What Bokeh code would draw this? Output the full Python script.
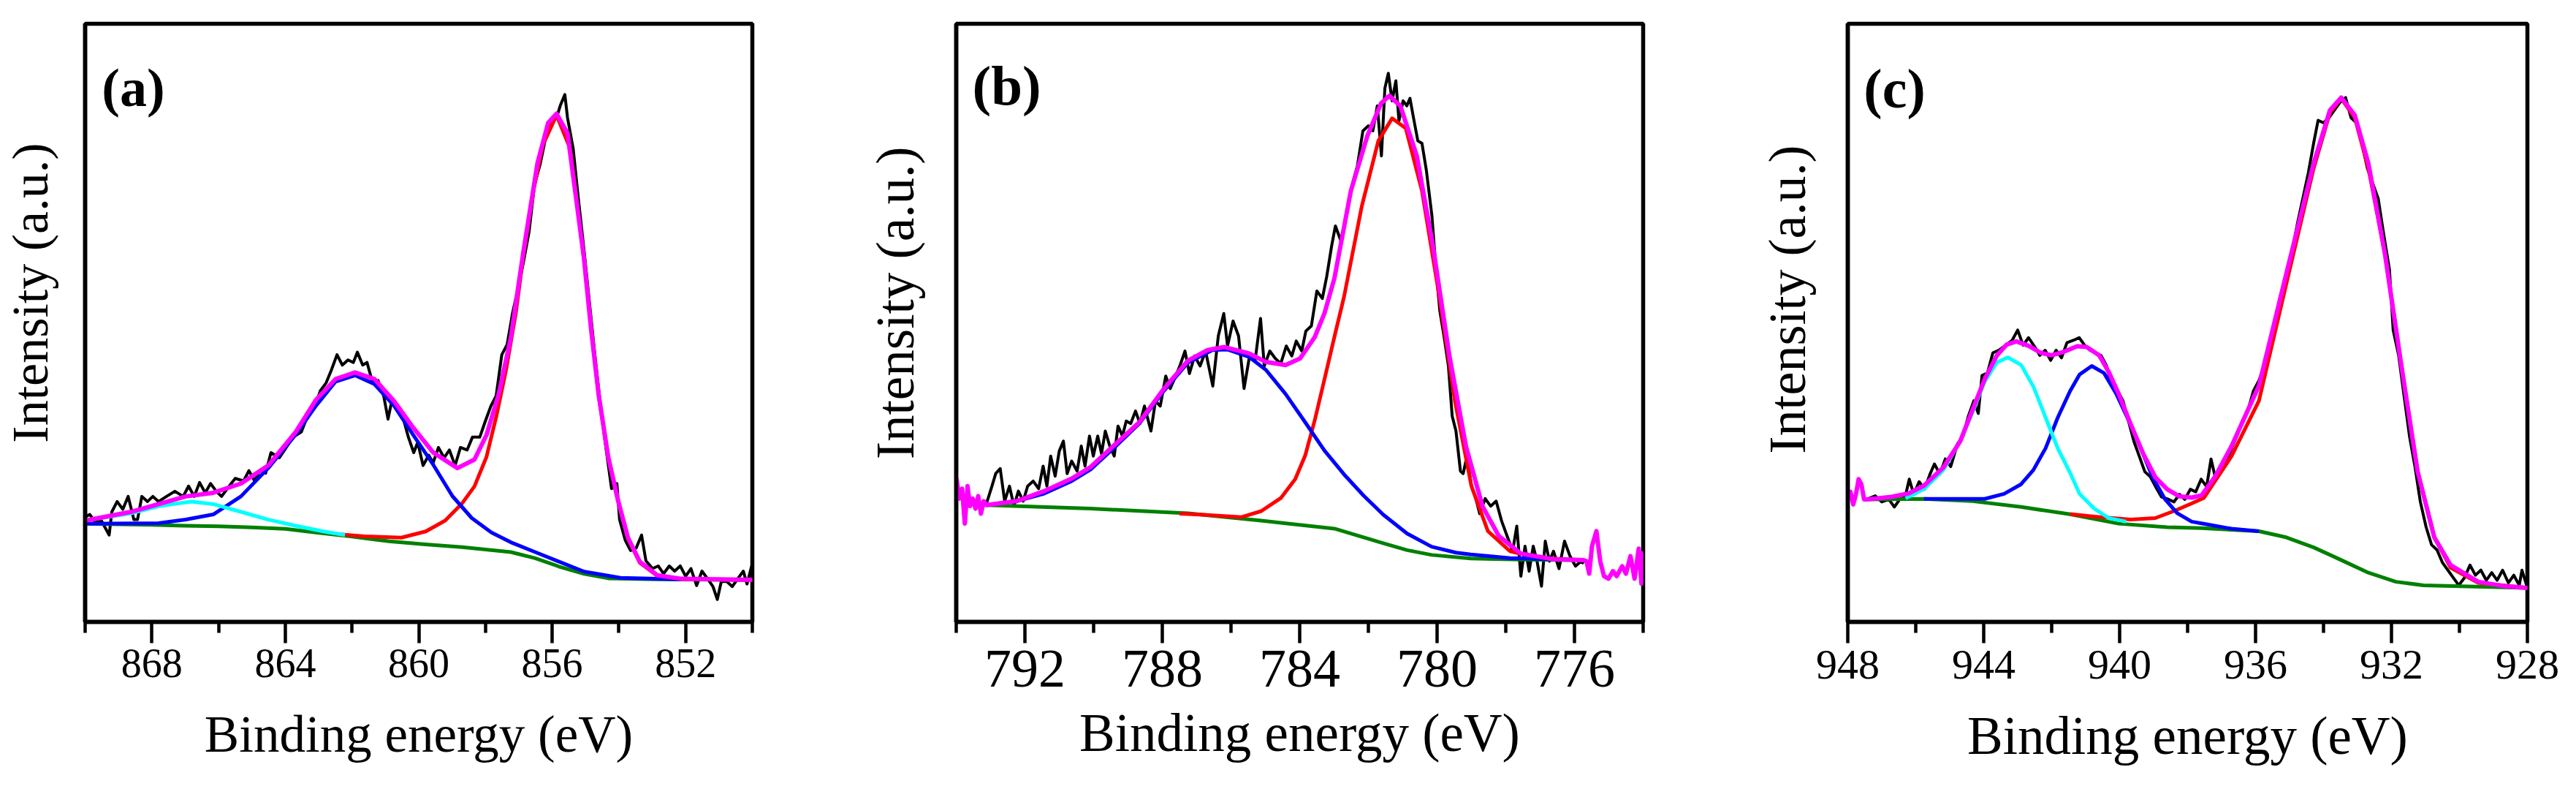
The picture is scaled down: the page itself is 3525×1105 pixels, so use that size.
from bokeh.plotting import figure
from bokeh.models import Range1d, FixedTicker, Label, Title
from bokeh.layouts import row
from bokeh.embed import file_html
from bokeh.resources import INLINE

FONT = "Liberation Serif"

# ---------------- panel (a): Ni 2p3/2 ----------------
a_raw_e = [870.0, 869.86, 869.70, 869.53, 869.28, 869.20, 869.04, 868.87, 868.71, 868.54,
           868.43, 868.30, 868.13, 867.97, 867.80, 867.56, 867.31, 867.06, 866.90, 866.73,
           866.57, 866.40, 866.24, 866.07, 865.91, 865.74, 865.50, 865.25, 865.09, 864.92,
           864.76, 864.59, 864.43, 864.18, 864.02, 863.77, 863.52, 863.28, 863.11, 862.95,
           862.78, 862.62, 862.45, 862.29, 862.12, 861.96, 861.84, 861.68, 861.55, 861.38,
           861.22, 861.05, 860.92, 860.81, 860.64, 860.48, 860.31, 860.15, 860.03, 859.87,
           859.70, 859.57, 859.41, 859.24, 859.08, 858.91, 858.75, 858.55, 858.39, 858.17,
           858.01, 857.84, 857.68, 857.51, 857.35, 857.19, 857.02, 856.86, 856.69, 856.53,
           856.36, 856.20, 856.03, 855.87, 855.75, 855.62, 855.54, 855.37, 855.21, 855.04,
           854.88, 854.72, 854.55, 854.39, 854.22, 854.06, 853.98, 853.81, 853.65, 853.48,
           853.32, 853.19, 852.99, 852.82, 852.66, 852.49, 852.33, 852.16, 852.00, 851.84,
           851.67, 851.51, 851.34, 851.18, 851.05, 850.93, 850.77, 850.60, 850.44, 850.27,
           850.16, 850.02]
a_raw_i = [21.3, 21.8, 20.3, 20.8, 17.8, 22.3, 24.3, 22.8, 25.3, 20.8,
           20.8, 25.3, 24.3, 25.3, 24.3, 25.3, 26.3, 25.3, 27.3, 25.3,
           28.0, 26.0, 27.8, 26.3, 25.3, 26.8, 28.8, 28.3, 30.3, 28.3,
           30.3, 29.8, 33.8, 32.8, 34.3, 36.8, 37.8, 41.8, 42.8, 45.8,
           47.3, 49.8, 52.8, 50.8, 51.8, 51.3, 53.3, 50.8, 51.3, 47.3,
           47.8, 44.8, 40.3, 43.8, 42.8, 40.8, 36.8, 33.8, 35.8, 31.3,
           33.3, 31.8, 34.8, 32.8, 34.3, 31.3, 34.8, 34.3, 36.8, 36.8,
           39.8, 42.8, 44.8, 52.8, 54.8, 60.8, 65.8, 70.8, 76.8, 85.8,
           89.8, 94.8, 97.8, 98.8, 101.3, 103.3, 98.8, 92.8, 82.8, 72.8,
           62.8, 52.8, 42.8, 34.8, 26.8, 27.8, 20.8, 16.8, 14.8, 15.3,
           17.8, 12.8, 11.3, 11.8, 10.3, 11.8, 10.8, 11.8, 9.8, 11.3,
           8.0, 10.8, 9.3, 7.8, 5.3, 8.8, 8.8, 7.8, 9.3, 10.8,
           8.3, 11.8]

a_bg_e = [870.0, 869.0, 868.0, 867.0, 866.0, 865.0, 864.0, 863.08, 862.0, 860.89,
          859.8, 858.70, 857.24, 856.51, 855.78, 855.04, 854.32, 852.85, 850.0]
a_bg_i = [20.0, 19.9, 19.8, 19.6, 19.5, 19.3, 19.0, 18.3, 17.5, 16.6,
          16.0, 15.45, 14.5, 13.3, 11.65, 10.25, 9.4, 9.2, 9.1]

a_red_e = [862.5, 861.62, 860.52, 859.79, 859.21, 858.70, 858.33, 857.97, 857.67, 857.38,
           857.09, 856.87, 856.55, 856.28, 855.87, 855.46, 855.05, 854.61, 854.32, 854.02,
           853.73, 853.37, 852.85, 852.12, 850.0]
a_red_i = [18.0, 17.55, 17.3, 18.5, 20.6, 23.95, 27.25, 32.95, 40.95, 49.95,
           60.85, 71.7, 85.0, 93.5, 99.3, 92.8, 71.5, 45.0, 32.8, 24.2,
           17.1, 12.4, 9.9, 9.2, 9.1]

a_blue_e = [870.0, 867.80, 866.98, 866.16, 865.33, 864.51, 863.69, 863.08, 862.49, 861.91,
            861.33, 860.74, 860.16, 859.57, 858.99, 858.41, 857.82, 857.24, 856.51, 855.78,
            855.04, 853.95, 852.16]
a_blue_i = [20.0, 20.1, 20.8, 21.8, 25.3, 30.8, 37.3, 42.9, 47.6, 48.8,
            47.1, 42.9, 37.2, 31.5, 25.35, 21.1, 18.3, 16.4, 14.5, 12.6,
            10.7, 9.5, 9.2]

a_cyan_e = [870.0, 868.63, 867.80, 866.81, 866.16, 865.33, 864.51, 863.69, 862.86, 862.21]
a_cyan_i = [20.6, 22.0, 23.4, 24.3, 23.8, 22.3, 20.8, 19.6, 18.5, 17.8]

a_env_e = [870.0, 868.63, 867.80, 866.98, 866.16, 865.33, 864.51, 863.69, 863.08, 862.49,
           861.91, 861.33, 860.74, 860.16, 859.57, 858.84, 858.33, 857.97, 857.60, 857.24,
           856.87, 856.44, 856.12, 855.87, 855.54, 855.05, 854.83, 854.61, 854.32, 854.02,
           853.73, 853.37, 852.85, 852.12, 850.0]
a_env_i = [20.6, 22.3, 23.8, 25.3, 26.0, 27.8, 31.3, 37.8, 44.05, 48.1,
           49.35, 48.1, 43.8, 38.6, 33.85, 30.8, 32.45, 37.2, 45.2, 56.1,
           72.5, 90.0, 97.8, 99.6, 95.8, 71.7, 57.5, 45.2, 32.95, 24.4,
           17.3, 12.6, 10.0, 9.3, 9.1]

# ---------------- panel (b): Co 2p3/2 ----------------
b_raw_e = [793.12, 792.96, 792.85, 792.72, 792.59, 792.45, 792.32, 792.19, 792.05, 791.92,
           791.76, 791.60, 791.47, 791.36, 791.25, 791.12, 791.00, 790.88, 790.77, 790.64,
           790.48, 790.36, 790.25, 790.12, 790.01, 789.88, 789.77, 789.66, 789.53, 789.40,
           789.29, 789.16, 789.05, 788.92, 788.78, 788.65, 788.52, 788.33, 788.20, 788.06,
           787.90, 787.77, 787.61, 787.49, 787.34, 787.21, 787.06, 786.90, 786.74, 786.53,
           786.37, 786.21, 786.10, 785.94, 785.78, 785.62, 785.46, 785.30, 785.14, 785.03,
           784.87, 784.71, 784.55, 784.39, 784.23, 784.10, 783.94, 783.82, 783.66, 783.50,
           783.34, 783.21, 783.07, 782.96, 782.80, 782.64, 782.48, 782.32, 782.16, 782.00,
           781.87, 781.74, 781.62, 781.52, 781.42, 781.31, 781.20, 781.11, 780.99, 780.88,
           780.79, 780.67, 780.56, 780.44, 780.31, 780.15, 780.04, 779.92, 779.80, 779.67,
           779.56, 779.45, 779.32, 779.24, 779.13, 779.00, 778.89, 778.76, 778.60, 778.44,
           778.28, 778.12, 777.96, 777.80, 777.68, 777.56, 777.44, 777.32, 777.20, 777.09,
           776.96, 776.85, 776.73, 776.61, 776.45, 776.29, 776.13, 775.97, 775.81, 775.73]
b_raw_i = [23.5, 27.0, 29.5, 30.5, 24.0, 27.0, 23.0, 26.0, 24.0, 27.0,
           28.0, 26.5, 31.0, 27.0, 33.0, 29.0, 34.0, 36.0, 29.5, 32.0,
           30.0, 35.0, 31.0, 37.0, 33.0, 37.0, 33.5, 38.0, 35.0, 33.0,
           39.0, 37.0, 40.0, 39.5, 42.0, 39.5, 43.0, 38.0, 44.0, 43.0,
           49.0, 46.5, 49.0, 51.0, 54.0, 49.5, 53.0, 51.0, 54.0, 47.0,
           57.0, 61.5, 55.0, 60.0, 57.0, 46.5, 53.0, 52.0, 60.5, 51.0,
           54.0, 52.5, 51.5, 55.0, 53.0, 56.0, 54.0, 58.0, 59.0, 66.0,
           64.5, 69.0, 75.0, 79.0, 76.0, 81.0, 87.0, 91.0, 98.0, 99.0,
           98.0, 103.0, 93.0, 106.5, 109.5, 104.0, 108.0, 100.0, 104.0, 103.0,
           104.5, 100.0, 96.0, 95.5, 90.0, 81.0, 71.0, 62.0, 57.0, 51.0,
           41.0, 38.0, 30.0, 29.5, 33.0, 27.0, 25.0, 21.5, 24.5, 23.0,
           24.0, 20.0, 17.0, 14.0, 19.0, 9.0, 15.0, 10.0, 15.0, 12.0,
           7.0, 16.0, 12.0, 14.0, 10.5, 16.0, 13.0, 11.0, 12.0, 11.5]

b_bg_e = [793.12, 790.09, 787.25, 785.12, 782.99, 782.28, 781.57, 780.87, 780.16, 779.02,
          777.5, 775.73]
b_bg_i = [23.2, 22.5, 21.55, 20.1, 18.5, 17.05, 15.6, 14.2, 13.25, 12.55,
          12.3, 12.2]

b_red_e = [787.5, 786.89, 785.69, 785.12, 784.55, 784.13, 783.84, 783.56, 783.28, 782.99,
           782.71, 782.19, 781.71, 781.31, 780.91, 780.44, 779.96, 779.48, 779.00, 778.52,
           777.88, 777.09, 775.73]
b_red_i = [21.5, 21.3, 20.8, 22.0, 24.6, 28.4, 33.1, 40.2, 48.3, 56.8,
           64.8, 83.0, 96.0, 100.5, 98.5, 86.0, 66.0, 44.0, 27.0, 18.0,
           14.0, 12.7, 12.2]

b_blue_e = [793.12, 792.24, 791.44, 790.64, 790.09, 789.38, 788.67, 787.96, 787.25, 786.54,
            786.11, 785.47, 784.98, 784.41, 783.84, 783.28, 782.71, 782.14, 781.57, 780.87,
            780.16, 779.45, 779.02, 777.88, 775.73]
b_blue_i = [23.2, 24.0, 25.5, 28.0, 30.3, 34.8, 39.5, 46.0, 51.7, 54.2,
            54.3, 52.8, 50.2, 45.4, 39.75, 34.1, 29.35, 25.1, 21.3, 17.5,
            14.9, 13.7, 13.35, 12.6, 12.2]

b_env_e = [793.99, 793.91, 793.83, 793.75, 793.67, 793.60, 793.52, 793.44, 793.36, 793.28,
           793.20, 793.12, 792.24, 791.44, 790.64, 790.09, 789.38, 788.67, 787.96, 787.25,
           786.68, 786.19, 785.47, 784.98, 784.41, 783.99, 783.56, 783.28, 782.99, 782.51,
           782.03, 781.63, 781.39, 781.07, 780.59, 780.12, 779.64, 779.16, 778.68, 778.20,
           777.56, 776.61, 775.73, 775.65, 775.57, 775.49, 775.36, 775.25, 775.14, 775.01,
           774.88, 774.77, 774.61, 774.50, 774.37, 774.25, 774.13, 774.05, 774.0]
b_env_i = [28.5, 24.5, 26.5, 19.5, 27.0, 23.0, 24.5, 22.5, 25.0, 21.5,
           24.0, 23.2, 24.0, 26.0, 28.5, 30.8, 35.3, 39.75, 46.4, 52.1,
           54.2, 54.8, 53.5, 51.8, 51.2, 52.5, 56.8, 61.5, 68.5, 86.0,
           97.0, 103.5, 105.0, 103.0, 93.0, 75.0, 53.0, 35.0, 23.0, 17.0,
           13.5, 12.4, 12.2, 12.0, 9.5, 15.0, 18.0, 12.0, 9.0, 8.5,
           10.0, 9.0, 11.0, 9.5, 13.0, 8.5, 14.5, 7.5, 14.0]

# ---------------- panel (c): Cu 2p3/2 ----------------
c_raw_e = [947.44, 947.19, 947.00, 946.79, 946.63, 946.47, 946.31, 946.19, 946.06, 945.90,
           945.74, 945.58, 945.45, 945.29, 945.13, 944.97, 944.77, 944.61, 944.45, 944.29,
           944.16, 944.05, 943.89, 943.73, 943.56, 943.35, 943.16, 943.00, 942.84, 942.68,
           942.48, 942.35, 942.19, 942.03, 941.87, 941.71, 941.55, 941.35, 941.19, 941.03,
           940.87, 940.71, 940.55, 940.39, 940.23, 940.06, 939.90, 939.74, 939.58, 939.42,
           939.26, 939.10, 938.94, 938.77, 938.56, 938.40, 938.24, 938.08, 937.92, 937.76,
           937.60, 937.44, 937.31, 937.19, 937.03, 936.87, 936.71, 936.55, 936.39, 936.23,
           936.06, 935.90, 935.74, 935.58, 935.42, 935.26, 935.10, 934.94, 934.77, 934.61,
           934.45, 934.29, 934.16, 934.00, 933.84, 933.68, 933.52, 933.35, 933.19, 933.03,
           932.87, 932.71, 932.55, 932.39, 932.23, 932.06, 931.95, 931.79, 931.63, 931.47,
           931.31, 931.15, 930.98, 930.82, 930.66, 930.50, 930.34, 930.18, 930.02, 929.85,
           929.69, 929.53, 929.37, 929.21, 929.05, 928.89, 928.73, 928.56, 928.40, 928.24,
           928.16, 928.00]
c_raw_i = [24.0, 24.7, 23.5, 24.0, 22.5, 24.0, 24.5, 28.0, 25.0, 27.5,
           26.0, 29.0, 31.0, 29.0, 32.0, 30.5, 35.0, 36.5, 40.5, 43.5,
           41.0, 48.5, 49.0, 53.0, 53.5, 54.5, 55.5, 57.5, 54.5, 56.0,
           54.0, 52.5, 53.5, 51.5, 53.5, 52.0, 55.0, 55.5, 56.0, 54.5,
           53.5, 53.0, 52.5, 50.5, 46.5, 45.5, 43.5, 39.5, 35.5, 32.5,
           29.5, 28.5, 26.5, 24.5, 24.0, 23.5, 25.0, 24.0, 26.0, 25.5,
           28.0, 26.5, 32.0, 28.5, 30.5, 31.5, 34.0, 36.5, 39.5, 41.5,
           45.5, 47.5, 50.5, 54.5, 59.5, 64.5, 68.5, 72.5, 78.5, 83.5,
           88.5, 94.5, 99.0, 98.5, 99.5, 101.0, 102.5, 103.5, 99.5, 98.5,
           94.5, 89.5, 86.5, 83.5, 76.5, 69.5, 57.5, 52.5, 44.5, 36.5,
           30.5, 23.5, 18.5, 15.0, 14.0, 11.5, 10.0, 8.5, 7.0, 8.5,
           11.0, 9.0, 10.0, 8.0, 9.5, 8.0, 10.0, 7.5, 9.0, 7.0,
           10.0, 6.5]

c_bg_e = [947.44, 945.76, 944.33, 942.90, 941.46, 940.03, 938.60, 937.59, 935.90, 935.10,
          934.29, 933.48, 932.68, 931.87, 931.06, 928.0]
c_bg_i = [24.0, 24.1, 23.65, 22.5, 21.05, 19.2, 18.5, 18.3, 17.7, 16.5,
          14.5, 12.0, 9.5, 7.7, 7.0, 6.5]

c_red_e = [941.46, 940.75, 939.67, 938.95, 938.38, 937.88, 937.52, 936.71, 935.90, 935.10,
           934.29, 933.81, 933.48, 933.08, 932.68, 932.19, 931.71, 931.23, 930.74, 930.26,
           929.45, 928.0]
c_red_i = [21.1, 20.6, 20.0, 20.3, 21.75, 23.2, 24.3, 32.5, 43.5, 66.5,
           89.5, 100.5, 103.3, 99.5, 89.5, 72.5, 50.5, 29.5, 16.5, 10.5,
           7.5, 6.5]

c_blue_e = [945.76, 943.97, 943.40, 942.90, 942.54, 942.18, 941.82, 941.46, 941.18, 940.82,
            940.46, 940.10, 939.74, 939.38, 939.03, 938.67, 938.31, 937.88, 937.59, 936.71,
            935.90]
c_blue_i = [24.1, 24.1, 25.1, 27.0, 29.8, 34.1, 40.2, 45.4, 48.7, 50.4,
            49.0, 44.9, 39.7, 34.1, 28.4, 24.1, 21.3, 19.6, 19.25, 18.2,
            17.7]

c_cyan_e = [946.3, 945.76, 945.19, 944.69, 944.33, 943.97, 943.61, 943.29, 942.90, 942.54,
            942.18, 941.82, 941.46, 941.18, 940.75, 940.32, 939.81]
c_cyan_i = [24.2, 26.0, 29.8, 35.5, 41.2, 47.3, 51.1, 52.1, 50.6, 46.35,
            40.2, 34.1, 29.3, 25.1, 22.2, 20.3, 19.6]

c_env_e = [948.0, 947.92, 947.84, 947.76, 947.68, 947.60, 947.52, 947.44, 946.71, 946.2,
           945.76, 945.19, 944.69, 944.33, 943.97, 943.61, 943.33, 943.04, 942.68, 942.32,
           942.0, 941.64, 941.25, 940.97, 940.60, 940.32, 940.03, 939.67, 939.31, 938.95,
           938.60, 938.24, 937.88, 937.59, 937.19, 936.71, 935.90, 935.10, 934.29, 933.81,
           933.48, 933.08, 932.68, 932.19, 931.71, 931.23, 930.74, 930.26, 929.45, 928.65,
           928.0]
c_env_i = [24.0, 25.5, 23.0, 25.0, 28.0, 27.0, 24.0, 24.0, 24.5, 25.2,
           26.7, 30.3, 35.5, 41.7, 47.8, 52.5, 54.6, 55.25, 54.4, 53.0,
           52.5, 53.2, 54.3, 54.15, 52.5, 49.2, 44.9, 38.8, 33.1, 28.4,
           26.0, 24.6, 24.35, 24.8, 28.5, 34.5, 46.5, 68.5, 90.5, 101.0,
           103.5, 100.0, 90.5, 72.5, 50.5, 29.5, 16.5, 11.0, 7.7, 6.8,
           6.5]


def panel(tag, xr, yr, major, minor, curves, width, borders, tick_fs, tick_standoff,
          title_fs, title_standoff, ylab, tag_pos, tag_fs):
    left, right, top, bottom = borders
    p = figure(width=width, height=1089, output_backend="svg", toolbar_location=None,
               title=None, x_range=Range1d(*xr), y_range=Range1d(*yr),
               min_border_left=left, min_border_right=right,
               min_border_top=top, min_border_bottom=bottom)
    p.grid.visible = False
    p.outline_line_color = "black"
    p.outline_line_width = 5.5
    p.background_fill_color = "white"
    p.border_fill_color = "white"

    for xs, ys, col, lw in curves:
        p.line(xs, ys, line_color=col, line_width=lw, line_join="round")

    ax = p.xaxis[0]
    ax.ticker = FixedTicker(ticks=major, minor_ticks=minor)
    ax.axis_label = "Binding energy (eV)"
    ax.axis_label_text_font = FONT
    ax.axis_label_text_font_style = "normal"
    ax.axis_label_text_color = "black"
    ax.axis_label_text_font_size = f"{title_fs}px"
    ax.axis_label_standoff = title_standoff
    ax.major_label_text_font = FONT
    ax.major_label_text_color = "black"
    ax.major_label_text_font_size = f"{tick_fs}px"
    ax.major_label_standoff = tick_standoff
    ax.axis_line_color = "black"
    ax.axis_line_width = 5.5
    ax.major_tick_line_color = "black"
    ax.minor_tick_line_color = "black"
    ax.major_tick_line_width = 4.5
    ax.minor_tick_line_width = 4.5
    ax.major_tick_in = 0
    ax.major_tick_out = 29
    ax.minor_tick_in = 0
    ax.minor_tick_out = 15

    # y axis has no ticks; a blank 1px label keeps the gap before the side title
    ay = p.yaxis[0]
    ay.ticker = FixedTicker(ticks=[])
    ay.major_label_standoff = 0
    ay.major_tick_out = 0
    ay.major_tick_in = 0
    ay.minor_tick_out = 0
    ay.minor_tick_in = 0
    ay.axis_line_color = "black"
    ay.axis_line_width = 5.5
    ay.axis_label = " "
    ay.axis_label_text_font_size = "1px"
    ay.axis_label_standoff = ylab[1]

    # y title: a side title, pushed down from the frame top (it sits above centre)
    p.add_layout(Title(text="Intensity (a.u.)", align="right", offset=ylab[0],
                       standoff=0, vertical_align="bottom", text_font=FONT,
                       text_font_size=f"{ylab[2]}px", text_font_style="normal",
                       text_color="black"), "left")

    p.add_layout(Label(x=tag_pos[0], y=tag_pos[1], text=tag, text_font=FONT,
                       text_font_style="bold", text_font_size=f"{tag_fs}px",
                       text_color="black", text_baseline="alphabetic", text_align="left"))
    return p


def curves(raw, bg, red, blue, cyan, env):
    out = [(raw[0], raw[1], "black", 4), (bg[0], bg[1], "#008000", 5),
           (red[0], red[1], "#FF0000", 5), (blue[0], blue[1], "#0000FF", 5)]
    if cyan is not None:
        out.append((cyan[0], cyan[1], "#00FFFF", 5))
    out.append((env[0], env[1], "#FF00FF", 6))
    return out


pa = panel("(a)", (870, 850), (0.94, 117.05), [852, 856, 860, 864, 868],
           [850, 854, 858, 862, 866, 870],
           curves((a_raw_e, a_raw_i), (a_bg_e, a_bg_i), (a_red_e, a_red_i),
                  (a_blue_e, a_blue_i), (a_cyan_e, a_cyan_i), (a_env_e, a_env_i)),
           1167, (116, 138, 32, 239), 56, 8, 71, 36,
           (163, 33, 70), (869.5, 104.65), 74)
pb = panel("(b)", (794, 774), (-0.14, 119.4), [776, 780, 784, 788, 792],
           [774, 778, 782, 786, 790, 794],
           curves((b_raw_e, b_raw_i), (b_bg_e, b_bg_i), (b_red_e, b_red_i),
                  (b_blue_e, b_blue_i), None, (b_env_e, b_env_i)),
           1175, (141, 94, 18, 229), 74, 10, 73, 20,
           (168, 39, 73), (793.53, 107.0), 77)
pc = panel("(c)", (948, 928), (-0.24, 118.1), [928, 932, 936, 940, 944, 948],
           [930, 934, 938, 942, 946],
           curves((c_raw_e, c_raw_i), (c_bg_e, c_bg_i), (c_red_e, c_red_i),
                  (c_blue_e, c_blue_i), (c_cyan_e, c_cyan_i), (c_env_e, c_env_i)),
           1167, (186, 51, 23, 232), 58, 10, 73, 35,
           (166, 39, 72), (947.53, 105.3), 76)

layout = row(pa, pb, pc)
open("out.html", "w").write(file_html(layout, INLINE))
